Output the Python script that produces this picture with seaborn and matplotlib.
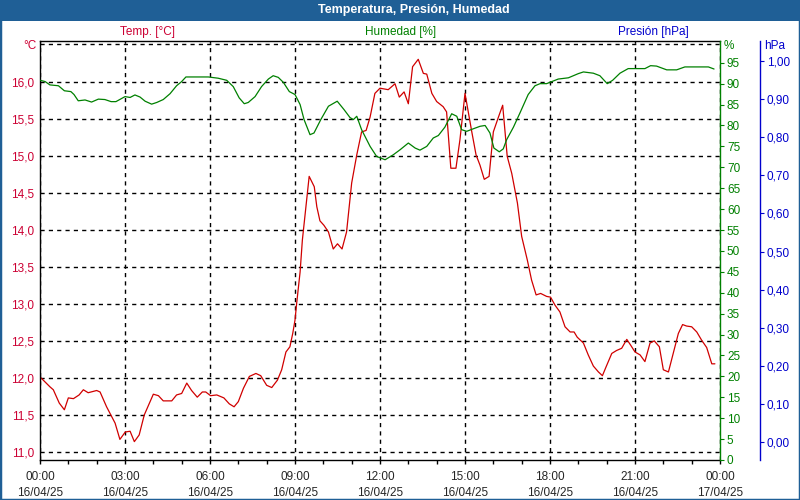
import pandas as pd
import matplotlib.pyplot as plt
import matplotlib.ticker as mticker
from matplotlib.patches import Rectangle
import seaborn as sns

# Datos (hora del dia en horas decimales)
horas_temp = [0.01, 0.35, 0.47, 0.68, 0.86, 1.00, 1.18, 1.38, 1.53, 1.70, 2.00, 2.12, 2.35, 2.65,
              2.82, 3.01, 3.18, 3.33, 3.50, 3.68, 4.00, 4.18, 4.35, 4.65, 4.82, 5.00, 5.18, 5.35,
              5.55, 5.73, 5.85, 6.02, 6.24, 6.49, 6.68, 6.85, 7.00, 7.18, 7.39, 7.62, 7.79, 8.00,
              8.18, 8.38, 8.53, 8.68, 8.82, 8.92, 9.00, 9.06, 9.18, 9.26, 9.50, 9.59, 9.68, 9.77,
              9.88, 10.02, 10.18, 10.35, 10.50, 10.66, 10.82, 11.00, 11.18, 11.35, 11.51, 11.65,
              11.82, 12.00, 12.29, 12.53, 12.68, 12.85, 13.00, 13.15, 13.35, 13.53, 13.65, 13.83,
              14.00, 14.23, 14.35, 14.50, 14.68, 14.82, 15.00, 15.24, 15.39, 15.53, 15.68, 15.85,
              16.00, 16.18, 16.33, 16.49, 16.65, 16.85, 17.00, 17.20, 17.35, 17.51, 17.67, 17.88,
              18.02, 18.18, 18.35, 18.53, 18.71, 18.85, 18.96, 19.18, 19.35, 19.53, 19.71, 19.85,
              19.98, 20.18, 20.35, 20.53, 20.71, 20.85, 21.00, 21.18, 21.35, 21.53, 21.68, 21.86,
              22.00, 22.18, 22.38, 22.53, 22.68, 22.82, 23.00, 23.18, 23.35, 23.53, 23.71, 23.82]
temperatura = [12.01, 11.88, 11.84, 11.66, 11.57, 11.73, 11.72, 11.77, 11.84, 11.80, 11.83, 11.81,
               11.61, 11.39, 11.17, 11.27, 11.28, 11.14, 11.23, 11.50, 11.78, 11.76, 11.69, 11.69,
               11.77, 11.79, 11.93, 11.83, 11.74, 11.81, 11.81, 11.76, 11.77, 11.73, 11.65, 11.61,
               11.68, 11.86, 12.02, 12.06, 12.03, 11.90, 11.87, 11.97, 12.11, 12.35, 12.42, 12.60,
               12.78, 13.01, 13.43, 13.86, 14.72, 14.65, 14.58, 14.31, 14.12, 14.06, 13.97, 13.74,
               13.81, 13.74, 13.97, 14.63, 15.01, 15.32, 15.34, 15.52, 15.84, 15.91, 15.89, 15.97,
               15.79, 15.86, 15.70, 16.20, 16.30, 16.11, 16.10, 15.84, 15.73, 15.66, 15.59, 14.83,
               14.83, 15.21, 15.84, 15.32, 15.01, 14.87, 14.68, 14.72, 15.32, 15.52, 15.68, 14.99,
               14.76, 14.36, 13.91, 13.59, 13.32, 13.12, 13.14, 13.10, 13.09, 12.98, 12.89, 12.69,
               12.62, 12.62, 12.55, 12.47, 12.31, 12.16, 12.08, 12.03, 12.15, 12.33, 12.37, 12.40,
               12.52, 12.44, 12.35, 12.31, 12.22, 12.47, 12.50, 12.42, 12.11, 12.08, 12.38, 12.60,
               12.72, 12.70, 12.69, 12.62, 12.51, 12.41, 12.19, 12.19]

horas_hum = [0.01, 0.18, 0.35, 0.65, 0.86, 1.09, 1.20, 1.35, 1.59, 1.82, 2.06, 2.29, 2.51, 2.68,
             3.00, 3.18, 3.35, 3.53, 3.71, 3.94, 4.12, 4.35, 4.59, 4.82, 5.00, 5.15, 5.53, 5.94,
             6.29, 6.59, 6.82, 7.03, 7.21, 7.35, 7.59, 7.82, 8.06, 8.23, 8.41, 8.59, 8.80, 9.00,
             9.18, 9.32, 9.53, 9.67, 9.91, 10.18, 10.49, 10.73, 10.94, 11.06, 11.18, 11.35, 11.65,
             11.88, 12.18, 12.47, 12.71, 13.00, 13.24, 13.41, 13.65, 13.88, 14.06, 14.29, 14.53,
             14.71, 14.88, 15.06, 15.29, 15.53, 15.71, 15.88, 16.02, 16.21, 16.35, 16.47, 16.71,
             16.94, 17.23, 17.47, 17.65, 17.88, 18.29, 18.65, 19.00, 19.18, 19.53, 19.76, 20.02,
             20.21, 20.47, 20.76, 21.35, 21.55, 21.76, 22.12, 22.47, 22.76, 23.59, 23.79]
humedad = [90.8, 90.5, 89.7, 89.5, 88.3, 88.1, 87.4, 85.9, 86.1, 85.6, 86.3, 86.2, 85.7, 85.7,
           86.9, 86.7, 87.3, 86.8, 85.8, 85.1, 85.5, 86.2, 87.6, 89.5, 90.5, 91.6, 91.6, 91.6,
           91.3, 90.8, 89.3, 86.6, 85.2, 85.5, 86.9, 89.3, 91.1, 91.9, 91.5, 90.3, 88.1, 87.4,
           85.0, 81.4, 77.8, 78.2, 81.4, 84.6, 85.8, 83.8, 81.9, 81.4, 82.2, 79.0, 75.0,
           72.6, 71.8, 73.0, 74.2, 75.8, 74.6, 74.1, 75.0, 77.0, 77.6, 79.6, 82.8,
           82.2, 79.0, 78.6, 79.2, 79.8, 80.0, 78.2, 74.6, 73.7, 74.4, 76.6, 79.6,
           83.0, 87.4, 89.5, 90.0, 90.0, 91.1, 91.4, 92.4, 92.8, 92.5, 91.9, 90.0,
           90.8, 92.5, 93.6, 93.6, 94.3, 94.2, 93.3, 93.3, 94.0, 94.0, 93.5]

horas_ticks = [0, 3, 6, 9, 12, 15, 18, 21, 24]
etiquetas_x = ['00:00\n16/04/25', '03:00\n16/04/25', '06:00\n16/04/25', '09:00\n16/04/25',
               '12:00\n16/04/25', '15:00\n16/04/25', '18:00\n16/04/25', '21:00\n16/04/25',
               '00:00\n17/04/25']

AZUL_MARCO = '#1f5f96'
ROJO = '#d00000'
ROJO_TXT = '#cc0033'
VERDE = '#008000'
AZUL = '#0000cc'

sns.set_style('white')
plt.rcParams['font.family'] = ['Liberation Sans', 'DejaVu Sans']
plt.rcParams['font.size'] = 8.5

df_t = pd.DataFrame({'hora': horas_temp, 'temp': temperatura})
df_h = pd.DataFrame({'hora': horas_hum, 'hum': humedad})

fig = plt.figure(figsize=(8, 5), dpi=100)
fig.patch.set_facecolor('white')

ax = fig.add_axes([40 / 800, 40 / 500, 680 / 800, 419 / 500])
ax_h = ax.twinx()
ax_p = ax.twinx()

sns.lineplot(data=df_t, x='hora', y='temp', ax=ax, color=ROJO, linewidth=0.9)
sns.lineplot(data=df_h, x='hora', y='hum', ax=ax_h, color=VERDE, linewidth=0.9)

# eje x
ax.set_xlim(0, 24)
ax.set_xticks(horas_ticks)
ax.set_xticklabels(etiquetas_x, linespacing=1.45)
ax.xaxis.set_minor_locator(mticker.MultipleLocator(1))
ax.tick_params(axis='x', which='both', direction='out', length=3, width=1, color='black',
               pad=5, bottom=True)
ax.set_xlabel('')

# eje temperatura
ax.set_ylim(10.892, 16.547)
ax.set_yticks([11.0, 11.5, 12.0, 12.5, 13.0, 13.5, 14.0, 14.5, 15.0, 15.5, 16.0, 16.5])
ax.yaxis.set_major_formatter(mticker.FuncFormatter(
    lambda v, p: '' if v > 16.2 else f'{v:.1f}'.replace('.', ',')))
ax.tick_params(axis='y', length=0, pad=4, labelcolor=ROJO_TXT)
ax.set_ylabel('')
ax.grid(True, which='major', color='black', linestyle=(0, (3, 3)), linewidth=1)
for s in ['left', 'bottom', 'top']:
    ax.spines[s].set_color('black')
    ax.spines[s].set_linewidth(1)
ax.spines['right'].set_visible(False)

# eje humedad
ax_h.set_ylim(0, 100.2)
ax_h.set_yticks(range(0, 100, 5))
ax_h.tick_params(axis='y', direction='out', length=3, color=VERDE, labelcolor=VERDE, pad=2)
ax_h.set_ylabel('')
for s in ['left', 'bottom', 'top']:
    ax_h.spines[s].set_visible(False)
ax_h.spines['right'].set_color(VERDE)
ax_h.spines['right'].set_linewidth(1)

# eje presion
ax_p.set_ylim(-0.046, 1.052)
ax_p.set_yticks([i / 10 for i in range(11)])
ax_p.yaxis.set_major_formatter(mticker.FuncFormatter(lambda v, p: f'{v:.2f}'.replace('.', ',')))
ax_p.spines['right'].set_position(('axes', 1 + 40 / 680))
ax_p.spines['right'].set_color(AZUL)
ax_p.spines['right'].set_linewidth(1)
for s in ['left', 'bottom', 'top']:
    ax_p.spines[s].set_visible(False)
ax_p.tick_params(axis='y', direction='out', length=3, color=AZUL, labelcolor=AZUL, pad=2)

# marco y barra de titulo
fig.patches.append(Rectangle((0, 1 - 21 / 500), 1, 21 / 500, transform=fig.transFigure,
                             facecolor=AZUL_MARCO, edgecolor='none', zorder=0))
fig.patches.append(Rectangle((0, 0), 1, 1, transform=fig.transFigure, fill=False,
                             edgecolor=AZUL_MARCO, linewidth=2.5, zorder=0))
fig.text(414 / 800, 1 - 10.5 / 500, 'Temperatura, Presión, Humedad', color='white',
         fontweight='bold', fontsize=9, ha='center', va='center')

fig.text(147 / 800, 1 - 32 / 500, 'Temp. [°C]', color=ROJO_TXT, ha='center', va='center')
fig.text(401 / 800, 1 - 32 / 500, 'Humedad [%]', color=VERDE, ha='center', va='center')
fig.text(653 / 800, 1 - 32 / 500, 'Presión [hPa]', color=AZUL, ha='center', va='center')

fig.text(37 / 800, 1 - 46 / 500, '°C', color=ROJO_TXT, ha='right', va='center')
fig.text(724 / 800, 1 - 46 / 500, '%', color=VERDE, ha='left', va='center')
fig.text(764 / 800, 1 - 46 / 500, 'hPa', color=AZUL, ha='left', va='center')

plt.savefig('out.png', dpi=100)
plt.close()
